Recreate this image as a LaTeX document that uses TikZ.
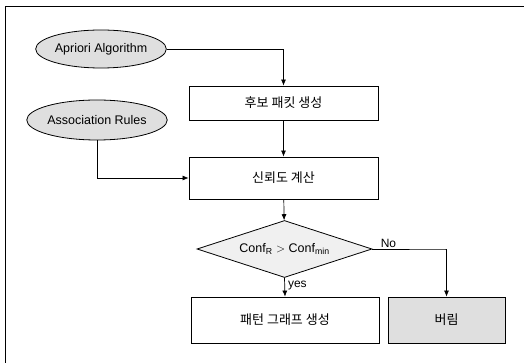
\documentclass[tikz,border=0pt]{standalone}
\usepackage{fontspec}
\setmainfont{Liberation Sans}
\newfontfamily\kr{Noto Sans CJK KR}
\usetikzlibrary{shapes.geometric,arrows.meta}
\begin{document}
\begin{tikzpicture}[x=1pt,y=-1pt,
  ell/.style={ellipse,draw,line width=0.8pt,fill=gray!25,inner sep=0pt,font=\fontsize{12.5}{14}\selectfont},
  box/.style={rectangle,draw,line width=0.8pt,inner sep=0pt,font=\kr\fontsize{13}{15}\selectfont},
  dia/.style={diamond,aspect=3.07,draw,line width=0.8pt,fill=gray!12,inner sep=0pt,font=\fontsize{12.5}{14}\selectfont},
  arr/.style={line width=0.7pt,-{Latex[length=6pt,width=5pt]}},
  lbl/.style={font=\fontsize{12}{14}\selectfont,inner sep=1pt}]
\useasboundingbox (0,0) rectangle (524,363);
\draw[line width=0.8pt] (5,363) -- (5,6) -- (524,6);
\node[ell,minimum width=127pt,minimum height=38pt] (apr) at (101,49) {Apriori Algorithm};
\node[ell,minimum width=135pt,minimum height=40pt] (asr) at (97,120) {Association Rules};
\node[box,minimum width=189pt,minimum height=34pt] (b1) at (283.5,103) {후보 패킷 생성};
\node[box,minimum width=189pt,minimum height=42pt] (b2) at (283.5,178) {신뢰도 계산};
\node[dia,minimum width=175pt,minimum height=57pt] (d) at (284.5,249) {Conf\textsubscript{R} $>$ Conf\textsubscript{min}};
\node[box,minimum width=188pt,minimum height=46pt] (b3) at (285,320) {패턴 그래프 생성};
\node[box,fill=gray!25,minimum width=117pt,minimum height=46pt] (b4) at (446.5,320) {버림};
\draw[arr] (apr.east) -| (b1.north);
\draw[arr] (b1) -- (b2);
\draw[arr] (asr.south) |- (b2.west);
\draw[arr] (b2) -- (d);
\draw[arr] (d.south) -- node[lbl,right=2pt,pos=0.4] {yes} (b3.north);
\draw[arr] (d.east) -- node[lbl,above,pos=0.22] {No} ++(73,0) -| (b4.north);
\end{tikzpicture}
\end{document}
